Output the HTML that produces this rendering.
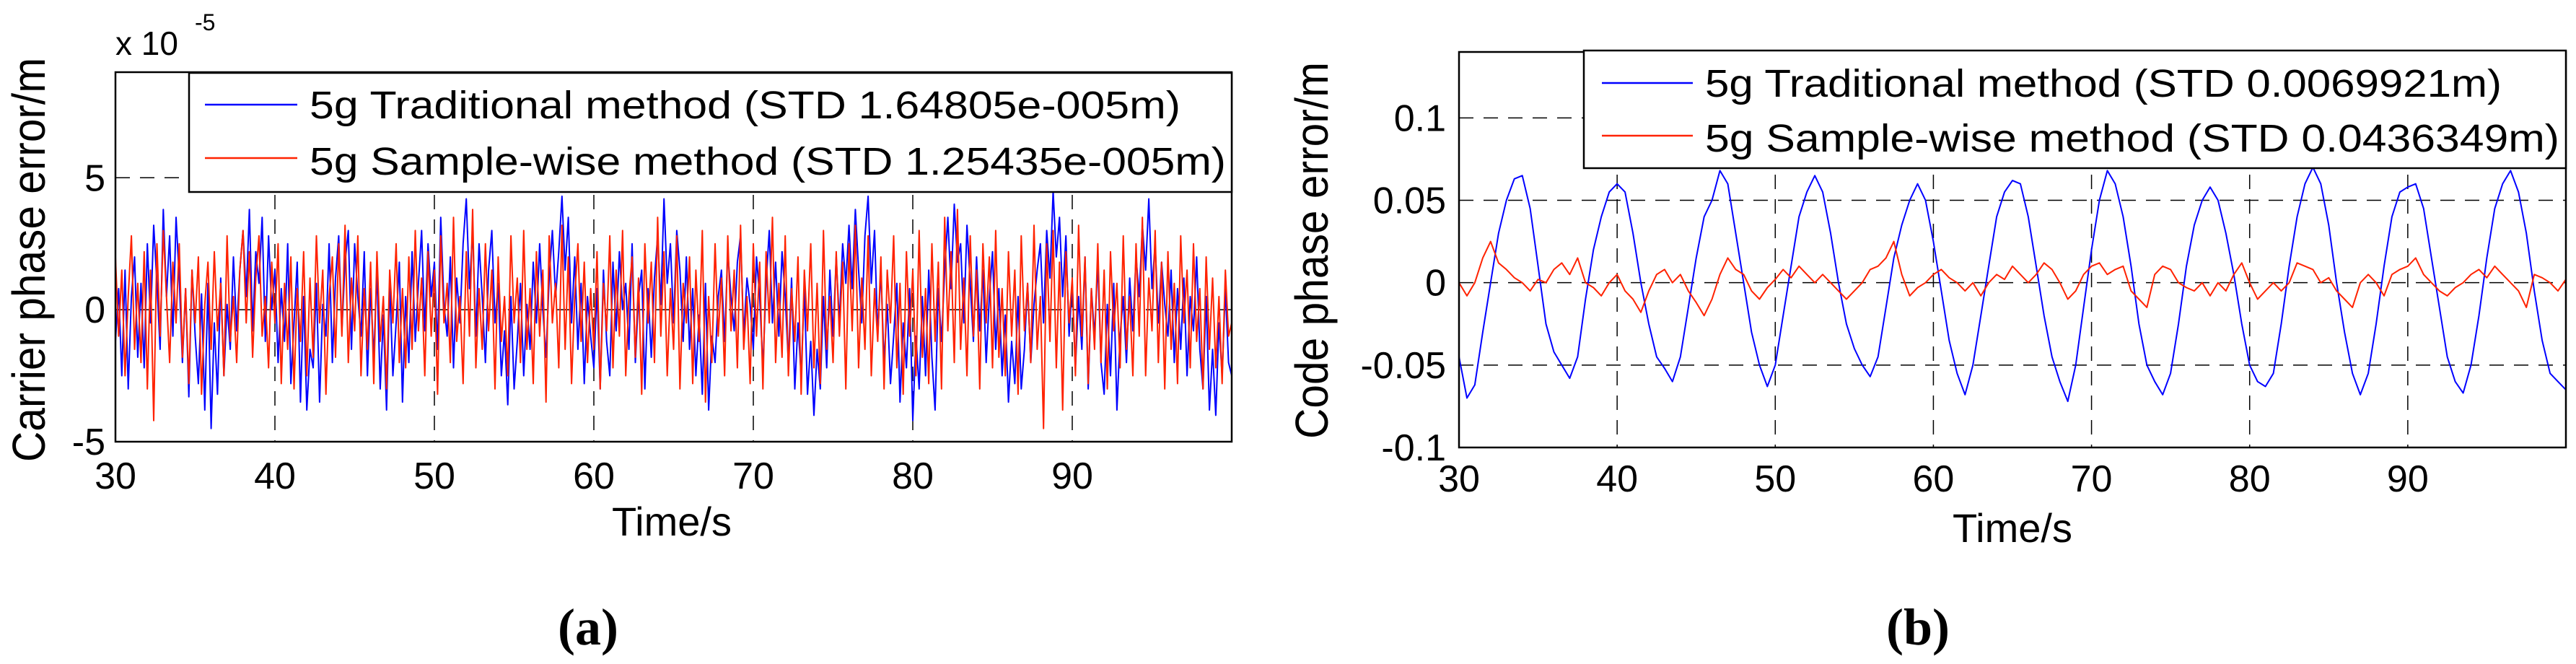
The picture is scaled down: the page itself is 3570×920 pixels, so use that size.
<!DOCTYPE html>
<html><head><meta charset="utf-8">
<style>
html,body{margin:0;padding:0;background:#fff;}
svg{display:block;}
text{font-family:"Liberation Sans",sans-serif;fill:#000;}
.cap{font-family:"Liberation Serif",serif;font-weight:bold;}
</style></head>
<body>
<svg id="fig" width="3570" height="920" viewBox="0 0 3570 920" xmlns="http://www.w3.org/2000/svg">
  <rect width="3570" height="920" fill="#fff"/>
  <g id="pa"></g>
  <g id="pb"></g>
</svg>
<script>
// ---------- Panel (a) data (units 1e-5 m) ----------
const aXTicks = [30,40,50,60,70,80,90];
const aYTicks = [-5,0,5];
const aYTickLabels = ["-5","0","5"];
const aBlue = [
-1.2,0.8,-2.5,1.5,-3.0,0.5,2.0,-1.8,1.0,-2.2,
2.5,-0.5,3.2,1.0,-1.5,3.8,0.5,2.8,-1.0,3.5,
1.2,-2.0,0.8,-3.3,1.5,-1.0,-2.8,0.6,-3.8,1.0,
-4.5,-0.5,-3.2,1.2,-2.5,0.2,-1.5,2.0,-0.8,1.5,
3.0,0.5,3.8,-0.8,2.2,1.0,3.5,-1.2,2.8,0.0,
1.5,-2.0,0.8,-1.2,2.5,-2.8,-0.5,1.8,-3.5,0.5,
-3.8,-1.5,-2.2,1.0,-3.5,0.2,-1.0,2.5,-2.0,1.2,
2.8,-0.8,1.8,3.0,-1.5,2.5,0.5,-1.0,2.2,-2.5,
0.8,-1.8,1.5,-3.0,-0.2,-3.8,1.0,-2.5,-0.5,1.8,
-3.5,0.5,-2.0,2.2,-1.2,1.0,3.0,-0.8,2.5,0.5,
1.8,-1.5,3.5,0.2,-1.0,2.0,-2.2,1.2,-0.5,2.5,
4.2,0.8,3.0,-1.0,2.5,0.5,-2.0,1.5,3.0,-0.5,
1.0,-2.5,-0.8,-3.6,0.5,-3.0,-1.2,1.0,-2.5,0.2,
-1.5,1.8,-0.5,2.5,0.0,-1.8,1.2,3.0,0.5,2.2,
4.3,1.5,3.5,-0.5,2.0,-1.5,1.0,-2.8,0.5,-1.0,
-2.2,0.8,-3.0,1.5,-1.2,-2.5,1.8,-0.8,2.2,0.0,
1.0,-1.5,2.5,-2.0,0.5,1.5,-3.0,0.8,-1.8,1.2,
2.8,0.2,4.2,1.0,2.5,-0.5,3.0,1.5,-1.2,2.0,
-1.5,0.8,-2.5,-0.2,-3.2,1.0,-3.8,-1.0,-2.0,0.5,
1.5,-1.2,2.2,0.5,-0.8,1.8,2.8,-1.0,1.2,0.2,
-1.5,2.0,0.5,-2.2,1.0,3.0,-0.5,1.8,-1.0,2.2,
0.5,-2.0,1.2,-3.0,-0.5,-2.5,0.8,-3.2,-1.2,-4.0,
-1.5,-3.0,0.5,-2.2,1.5,-1.0,2.0,-0.5,2.5,1.0,
3.2,0.8,3.8,1.5,-0.5,2.8,4.3,1.0,3.0,-1.0,
1.5,-2.0,0.2,-2.8,-1.0,1.0,-3.5,-0.5,-2.2,0.8,
-4.2,-1.0,-3.0,0.5,-2.5,1.5,-1.8,-3.8,0.8,-1.2,
1.5,3.5,0.8,4.0,1.8,2.5,-0.5,3.2,1.0,-1.2,
2.0,-0.8,1.5,-2.0,0.5,2.2,-1.5,0.8,-2.5,-0.2,
-3.5,-1.2,-2.8,0.5,-3.0,-1.5,1.0,-2.0,0.2,1.5,
2.5,-0.5,3.0,1.2,4.5,2.0,3.5,0.5,2.8,-1.0,
1.0,-2.2,0.5,-1.5,2.0,-3.0,0.8,-1.0,1.8,-2.0,
-3.2,0.2,-2.5,1.0,-3.8,-1.0,0.5,-2.0,1.2,-0.8,
2.0,0.5,3.2,1.5,4.2,0.8,2.5,-0.5,1.8,0.2,
-1.0,1.5,-2.0,0.8,-1.5,1.2,-2.5,0.5,-0.8,2.0,
-1.5,-3.0,0.5,-3.8,-1.5,-4.0,-0.5,-2.5,0.8,-2.0,-2.5];
const aRed = [
2.0,-1.0,1.5,-2.5,0.5,2.8,-1.5,1.0,-2.0,2.2,
-3.0,1.5,-4.2,2.5,-1.0,3.0,0.5,-2.0,1.8,-0.5,
2.5,-1.8,0.8,-2.8,1.5,-0.5,2.0,-3.2,0.2,1.8,
-1.5,2.2,-0.8,1.0,-2.5,2.8,-1.2,0.5,-2.0,1.5,
3.0,-0.5,2.2,-1.8,1.2,2.8,-1.0,0.5,-2.2,1.8,
-0.5,2.5,-2.8,1.0,-1.5,2.0,-3.0,0.8,-1.2,2.2,
-2.5,1.2,-1.8,2.8,-0.5,1.5,-3.2,0.5,2.0,-1.8,
2.5,-1.0,3.2,-2.0,1.2,-0.8,2.8,-2.5,0.8,-1.5,
1.8,-2.8,2.2,-1.2,0.5,-3.0,1.5,-0.5,2.5,-2.0,
0.8,-2.2,2.0,-1.5,3.0,-0.8,1.2,-2.5,2.2,-1.0,
1.5,-3.2,2.8,-0.5,1.0,-2.0,3.5,-1.2,0.5,-2.8,
2.2,-1.0,3.8,-2.2,0.8,-1.5,2.5,-0.8,1.5,-3.0,
2.0,-1.2,0.5,-2.5,2.8,-0.5,1.2,-2.0,3.0,-1.5,
0.8,-2.8,2.2,-1.0,1.5,-3.5,2.8,-0.5,1.0,-2.2,
3.2,-1.5,2.0,-2.8,0.5,2.5,-1.2,1.8,-2.0,0.8,
-1.5,2.2,-3.0,1.0,-0.8,2.8,-2.2,1.5,-1.0,3.0,
-2.5,0.5,2.0,-1.8,1.2,-3.2,2.5,-0.5,1.8,-2.0,
3.5,-1.0,2.2,-2.5,0.8,-1.5,2.8,-3.0,1.0,-0.5,
2.0,-2.8,1.5,-1.2,3.0,-3.5,0.5,-2.0,2.5,-1.0,
1.2,-2.5,2.8,-0.8,1.5,-2.2,3.2,-1.5,0.5,-2.8,
2.5,-1.0,1.8,-3.0,2.2,-0.5,3.5,-2.0,1.0,-1.8,
2.8,-2.5,0.8,-1.2,2.0,-3.2,1.5,-0.8,2.5,-2.2,
1.0,-2.8,3.0,-1.5,0.5,-2.0,2.2,-1.0,1.8,-3.0,
2.5,-0.8,3.2,-2.2,1.2,-1.5,2.8,-2.5,0.8,-1.2,
2.0,-3.0,1.5,-0.5,2.8,-2.2,1.0,-3.2,2.2,-1.0,
1.5,-2.5,3.0,-1.8,0.8,-2.8,2.5,-1.2,1.8,-3.0,
3.5,-0.8,2.2,-2.0,3.8,-1.5,1.2,-2.5,2.8,-1.0,
1.5,-3.0,2.5,-0.5,2.0,-2.2,3.0,-1.8,0.8,-2.5,
2.2,-1.0,1.5,-3.2,2.8,-0.8,1.0,-2.0,3.2,-1.5,
0.5,-4.5,2.5,-1.2,3.0,-2.2,1.8,-3.8,2.2,-0.5,
1.2,-2.5,3.2,-1.0,2.0,-2.8,0.8,-1.5,2.5,-2.0,
1.5,-3.0,2.2,-0.8,1.0,-2.2,2.8,-1.5,0.5,-2.5,
2.5,-1.0,3.5,-2.5,1.2,-0.8,3.0,-2.0,1.8,-3.0,
2.2,-1.5,1.0,-2.8,2.8,-0.5,1.5,-2.2,2.5,-1.2,
0.8,-3.0,2.0,-1.5,1.2,-2.2,0.5,-2.8,1.5,-1.0,-0.5];
const aStart = 30, aEnd = 100;

// ---------- Panel (b) data (m) ----------
const bXTicks = [30,40,50,60,70,80,90];
const bYTicks = [-0.1,-0.05,0,0.05,0.1];
const bYTickLabels = ["-0.1","-0.05","0","0.05","0.1"];
const bBlue = [
-0.045,-0.07,-0.062,-0.03,0.0,0.03,0.05,0.063,0.065,0.045,0.01,-0.025,-0.042,-0.05,-0.058,-0.045,
-0.01,0.02,0.04,0.055,0.06,0.055,0.03,0.0,-0.025,-0.045,-0.052,-0.06,-0.045,-0.015,0.015,0.04,
0.05,0.068,0.06,0.03,0.0,-0.03,-0.05,-0.063,-0.05,-0.02,0.01,0.04,0.055,0.065,0.055,0.03,
0.0,-0.025,-0.04,-0.05,-0.057,-0.045,-0.015,0.015,0.035,0.05,0.06,0.05,0.025,-0.005,-0.035,-0.055,
-0.068,-0.05,-0.02,0.01,0.04,0.055,0.062,0.06,0.04,0.01,-0.02,-0.045,-0.06,-0.072,-0.05,-0.015,
0.02,0.05,0.068,0.06,0.04,0.01,-0.025,-0.05,-0.06,-0.068,-0.055,-0.025,0.01,0.035,0.05,0.058,
0.05,0.03,0.005,-0.025,-0.05,-0.06,-0.063,-0.055,-0.025,0.01,0.04,0.06,0.07,0.06,0.035,0.0,
-0.03,-0.055,-0.068,-0.055,-0.025,0.01,0.04,0.055,0.058,0.06,0.045,0.015,-0.015,-0.045,-0.06,-0.067,
-0.05,-0.02,0.015,0.045,0.06,0.068,0.055,0.03,-0.005,-0.035,-0.055,-0.06,-0.065];
const bRed = [
0,-0.008,0.0,0.015,0.025,0.012,0.008,0.003,0.0,-0.005,0.002,0.0,0.008,0.012,0.005,0.015,
0.0,-0.003,-0.008,0.0,0.005,-0.005,-0.01,-0.018,-0.005,0.005,0.008,0.0,0.005,-0.005,-0.012,-0.02,
-0.01,0.005,0.015,0.008,0.005,-0.005,-0.01,-0.003,0.002,0.008,0.003,0.01,0.005,0.0,0.005,0.0,
-0.005,-0.01,-0.005,0.0,0.008,0.01,0.015,0.025,0.005,-0.008,-0.003,0.0,0.005,0.008,0.003,0.0,
-0.005,0.0,-0.008,0.0,0.005,0.002,0.01,0.005,0.0,0.005,0.012,0.008,0.0,-0.01,-0.005,0.005,
0.01,0.012,0.005,0.008,0.01,-0.005,-0.01,-0.015,0.005,0.01,0.008,0.0,-0.003,-0.005,0.0,-0.008,
0.0,-0.005,0.005,0.012,0.0,-0.01,-0.005,0.0,-0.005,0.0,0.012,0.01,0.008,0.0,0.003,-0.005,
-0.01,-0.015,0.0,0.005,0.0,-0.008,0.005,0.008,0.01,0.015,0.005,0.0,-0.005,-0.008,-0.003,0.0,
0.005,0.008,0.003,0.01,0.005,0.0,-0.005,-0.015,0.005,0.003,0.0,-0.005,0.002];
const bStart = 30, bEnd = 100;

const NS = "http://www.w3.org/2000/svg";
function mk(parent, tag, attrs, txt){
  const e = document.createElementNS(NS, tag);
  for (const k in attrs) e.setAttribute(k, attrs[k]);
  if (txt !== undefined) e.textContent = txt;
  parent.appendChild(e);
  return e;
}

function panel(g, cfg){
  const sx = v => cfg.L + (v - cfg.xmin) / (cfg.xmax - cfg.xmin) * (cfg.R - cfg.L);
  const sy = v => cfg.B - (v - cfg.ymin) / (cfg.ymax - cfg.ymin) * (cfg.B - cfg.T);
  // grid
  cfg.xTicks.forEach(t => {
    if (t === cfg.xmin) return;
    const l = mk(g, 'line', {x1:sx(t), x2:sx(t), y1:cfg.T, y2:cfg.B, stroke:'#000', 'stroke-width':1.5, 'stroke-dasharray':'20,14'});
    
    
  });
  cfg.yTicks.forEach(t => {
    if (t === cfg.ymin) return;
    const l = mk(g, 'line', {x1:cfg.L, x2:cfg.R, y1:sy(t), y2:sy(t), stroke:'#000', 'stroke-width':1.5, 'stroke-dasharray':'20,14'});
    
    
  });
  // series
  cfg.series.forEach(s => {
    const n = s.data.length;
    const pts = s.data.map((v,i) => (sx(cfg.xmin + i*(cfg.xmax-cfg.xmin)/(n-1))).toFixed(1) + ',' + sy(v).toFixed(1)).join(' ');
    const p = mk(g, 'polyline', {points:pts, fill:'none', stroke:s.color, 'stroke-width':s.w, 'stroke-linejoin':'round'});
    
    
  });
  // axes box
  const box = mk(g, 'rect', {x:cfg.L, y:cfg.T, width:cfg.R-cfg.L, height:cfg.B-cfg.T, fill:'none', stroke:'#000', 'stroke-width':2.5});
  
  
  // tick labels
  cfg.xTicks.forEach(t => {
    const e = mk(g, 'text', {x:sx(t), y:cfg.xLabY, 'font-size':52, 'text-anchor':'middle'}, String(t));
    
    
  });
  cfg.yTicks.forEach((t,i) => {
    const e = mk(g, 'text', {x:cfg.yLabX, y:sy(t)+18, 'font-size':52, 'text-anchor':'end'}, cfg.yTickLabels[i]);
    
    
  });
  return {sx, sy};
}

const ga = document.getElementById('pa');
panel(ga, {L:160, R:1707, T:100, B:612, xmin:aStart, xmax:aEnd, ymin:-5, ymax:9,
  xTicks:aXTicks, yTicks:aYTicks, yTickLabels:aYTickLabels, xLabY:677, yLabX:146,
  series:[{data:aBlue, color:'#0000ff', w:2, name:'traditional-series'},{data:aRed, color:'#ff2200', w:2, name:'sample-wise-series'}]});

const gb = document.getElementById('pb');
panel(gb, {L:2022, R:3556, T:72, B:620, xmin:bStart, xmax:bEnd, ymin:-0.1, ymax:0.14,
  xTicks:bXTicks, yTicks:bYTicks, yTickLabels:bYTickLabels, xLabY:681, yLabX:2004,
  series:[{data:bBlue, color:'#0000ff', w:2, name:'traditional-series'},{data:bRed, color:'#ff2200', w:2, name:'sample-wise-series'}]});

function legend(g, x, y, w, h, rows){
  const r = mk(g, 'rect', {x:x, y:y, width:w, height:h, fill:'#fff', stroke:'#000', 'stroke-width':2.5});
  
  
  rows.forEach(row => {
    const l = mk(g, 'line', {x1:row.lx1, x2:row.lx2, y1:row.ly, y2:row.ly, stroke:row.color, 'stroke-width':2.5});
    
    
    const t = mk(g, 'text', {x:row.tx, y:row.ty, 'font-size':54, textLength:row.tl, lengthAdjust:'spacingAndGlyphs', 'xml:space':'preserve'}, row.text);
    
    
  });
}
legend(ga, 262, 101, 1445, 165, [
  {lx1:284, lx2:412, ly:145, color:'#0000ff', tx:429, ty:164, tl:1207, text:'5g  Traditional method (STD 1.64805e-005m)'},
  {lx1:284, lx2:412, ly:219, color:'#ff2200', tx:429, ty:242, tl:1270, text:'5g  Sample-wise method (STD 1.25435e-005m)'}]);
legend(gb, 2195, 70, 1361, 163, [
  {lx1:2220, lx2:2346, ly:115, color:'#0000ff', tx:2363, ty:134, tl:1104, text:'5g Traditional method (STD 0.0069921m)'},
  {lx1:2220, lx2:2346, ly:188, color:'#ff2200', tx:2363, ty:210, tl:1184, text:'5g  Sample-wise method (STD 0.0436349m)'}]);

function txt(g, attrs, s, name){
  const e = mk(g, 'text', attrs, s);
  
  
  return e;
}
// panel a labels
txt(ga, {x:160, y:76, 'font-size':46}, 'x 10', 'y-scale-multiplier');
txt(ga, {x:270, y:42, 'font-size':32}, '-5', 'y-scale-exponent');
txt(ga, {x:0, y:0, 'font-size':64, 'text-anchor':'middle', textLength:560, lengthAdjust:'spacingAndGlyphs', transform:'translate(62,360) rotate(-90)'}, 'Carrier phase error/m', 'y-axis-title');
txt(ga, {x:931, y:742, 'font-size':56, 'text-anchor':'middle'}, 'Time/s', 'x-axis-title');
txt(ga, {x:815, y:893, 'font-size':72, 'text-anchor':'middle', class:'cap'}, '(a)', 'panel-caption');
// panel b labels
txt(gb, {x:0, y:0, 'font-size':64, 'text-anchor':'middle', textLength:522, lengthAdjust:'spacingAndGlyphs', transform:'translate(1840,347) rotate(-90)'}, 'Code phase error/m', 'y-axis-title');
txt(gb, {x:2789, y:751, 'font-size':56, 'text-anchor':'middle'}, 'Time/s', 'x-axis-title');
txt(gb, {x:2658, y:893, 'font-size':72, 'text-anchor':'middle', class:'cap'}, '(b)', 'panel-caption');
</script>
</body></html>
